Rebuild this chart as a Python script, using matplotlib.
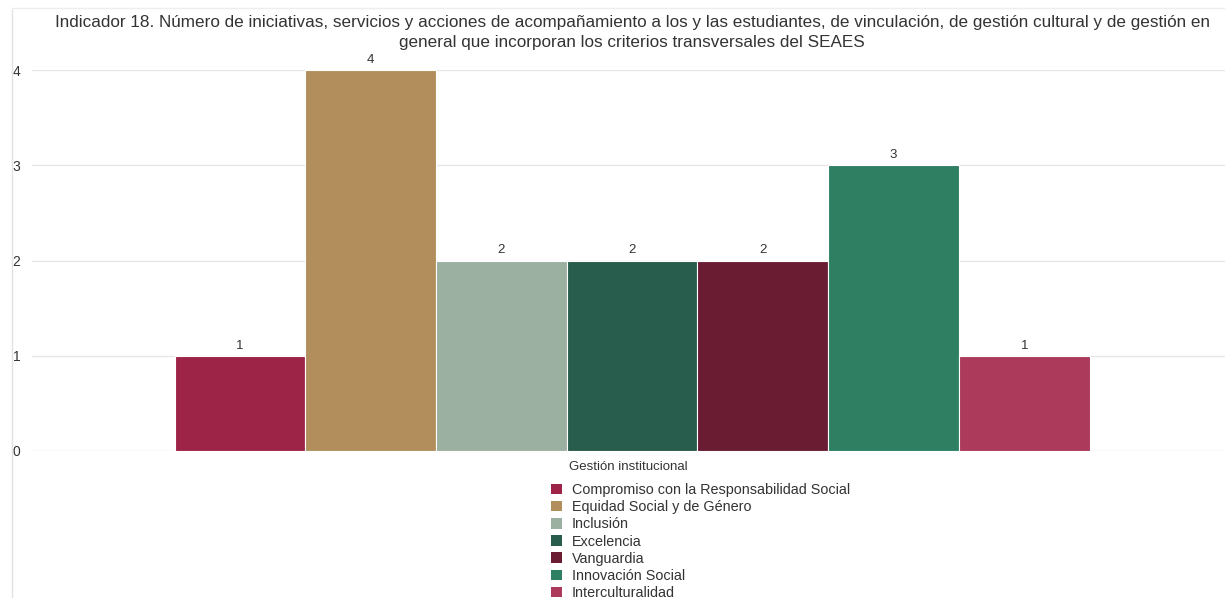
import matplotlib
matplotlib.use("Agg")
import matplotlib.pyplot as plt
from matplotlib.patches import Patch
from matplotlib.lines import Line2D

plt.rcParams['font.family'] = ['Liberation Sans', 'DejaVu Sans']

# data
group = "Gestión institucional"
series = ["Compromiso con la Responsabilidad Social", "Equidad Social y de Género",
          "Inclusión", "Excelencia", "Vanguardia", "Innovación Social",
          "Interculturalidad"]
values = [1, 4, 2, 2, 2, 3, 1]
colors = ["#9D2347", "#B38E5D", "#9BB0A0", "#285C4D", "#6A1C33", "#2F8062", "#AB3A5B"]

title = ("Indicador 18. Número de iniciativas, servicios y acciones de acompañamiento a los y las "
         "estudiantes, de vinculación, de gestión cultural y de gestión en\n"
         "general que incorporan los criterios transversales del SEAES")

fig = plt.figure(figsize=(12.25, 5.98), dpi=100)
ax = fig.add_axes([32/1225, 1 - 451/598, 1 - 32/1225, (451 - 70)/598])

n = len(values)
w = 0.767 / n
for i, (name, v, c) in enumerate(zip(series, values, colors)):
    x = 0.003 + (i - (n - 1) / 2) * w
    b = ax.bar(x, v, width=w, color=c, edgecolor="white", linewidth=0.8, label=name, zorder=3)
    ax.bar_label(b, padding=3, fontsize=9.5, color="#333333")

ax.set_xlim(-0.5, 0.5)
ax.set_ylim(0, 4)
ax.set_yticks([0, 1, 2, 3, 4])
ax.set_xticks([0])
ax.set_xticklabels([group])
ax.tick_params(axis="y", length=0, pad=14, labelsize=10, labelcolor="#333333")
ax.tick_params(axis="x", length=0, pad=7, labelsize=9.5, labelcolor="#333333")
for lbl in ax.get_yticklabels():
    lbl.set_ha("left")
ax.grid(axis="y", color="#e6e6e6", linewidth=1, zorder=0)
for s in ax.spines.values():
    s.set_visible(False)

fig.text(0.516, 1 - 15/598, title, ha="center", va="top", fontsize=12.3, color="#333333",
         linespacing=1.4)

# screenshot frame lines
fig.add_artist(Line2D([12/1225, 12/1225], [0, 1 - 10/598], transform=fig.transFigure,
                      color="#e3e3e3", linewidth=1))
fig.add_artist(Line2D([12/1225, 1], [1 - 8/598, 1 - 8/598], transform=fig.transFigure,
                      color="#eeeeee", linewidth=1))

handles = [Patch(facecolor=c, edgecolor="none") for c in colors]
fig.legend(handles, series, loc="upper left", bbox_to_anchor=(551/1225, 1 - 483/598),
           frameon=False, fontsize=10.4, handlelength=0.75, handleheight=0.75,
           handletextpad=0.7, labelspacing=0.22, borderaxespad=0, borderpad=0,
           labelcolor="#333333")

fig.savefig("out.png", dpi=100)
